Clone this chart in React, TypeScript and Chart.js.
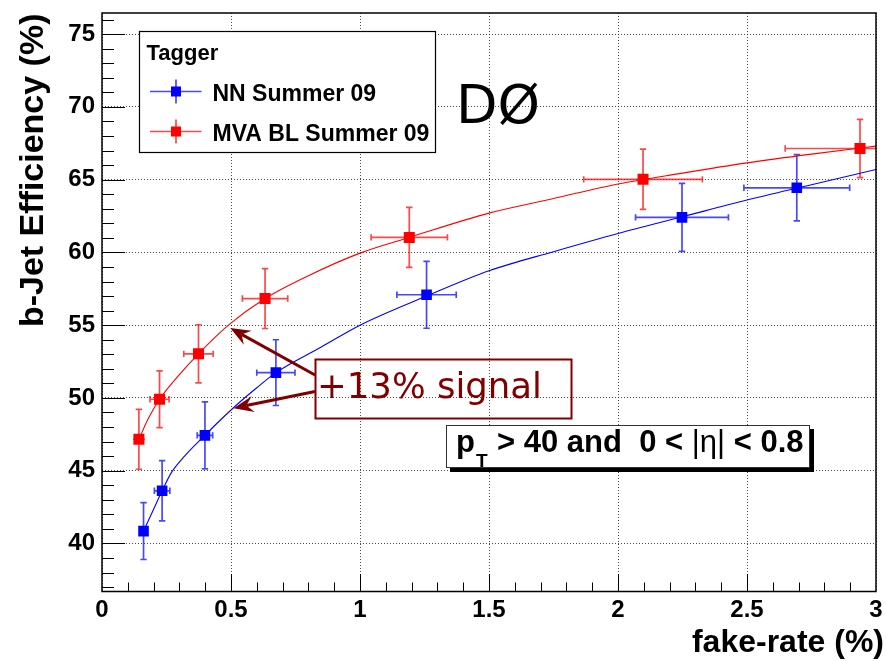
import React, { useEffect, useRef } from 'react';
import { Chart, registerables } from 'chart.js';

Chart.register(...registerables);

// ---------- data ----------
const seriesNames = ['NN Summer 09', 'MVA BL Summer 09'];
const legendTitle = 'Tagger';

// NN Summer 09 (blue)
const nnX = [0.161, 0.233, 0.399, 0.674, 1.258, 2.248, 2.693];
const nnY = [40.85, 43.62, 47.43, 51.74, 57.09, 62.41, 64.44];
const nnXErr = [0.015, 0.03, 0.03, 0.074, 0.115, 0.18, 0.205];
const nnYErr = [1.95, 2.07, 2.3, 2.26, 2.3, 2.34, 2.28];

// MVA BL Summer 09 (red)
const mvaX = [0.143, 0.223, 0.374, 0.632, 1.191, 2.097, 2.938];
const mvaY = [47.16, 49.91, 53.03, 56.83, 61.03, 65.02, 67.14];
const mvaXErr = [0.023, 0.037, 0.057, 0.088, 0.148, 0.23, 0.29];
const mvaYErr = [2.06, 1.95, 2.0, 2.06, 2.06, 2.07, 2.0];

// fitted curves
const nnFitX = [0.161, 0.2, 0.233, 0.27, 0.32, 0.399, 0.46, 0.53, 0.6, 0.674, 0.85, 1.0, 1.258, 1.5, 1.75, 2.0, 2.25, 2.5, 2.75, 3.0];
const nnFitY = [40.85, 42.35, 43.62, 44.9, 46.0, 47.43, 48.5, 49.65, 50.7, 51.74, 53.5, 55.0, 57.0, 58.74, 60.05, 61.3, 62.45, 63.6, 64.65, 65.7];
const mvaFitX = [0.143, 0.18, 0.223, 0.3, 0.374, 0.49, 0.632, 0.8, 1.0, 1.191, 1.5, 1.75, 2.0, 2.25, 2.5, 2.75, 3.0];
const mvaFitY = [47.16, 48.6, 49.91, 51.6, 53.03, 55.0, 56.83, 58.4, 59.95, 61.03, 62.7, 63.7, 64.7, 65.45, 66.15, 66.75, 67.3];

// axes
const xMin = 0;
const xMax = 3;
const yMin = 36.7;
const yMax = 76.45;
const xTicks = [0, 0.5, 1, 1.5, 2, 2.5, 3];
const xTickLabels = ['0', '0.5', '1', '1.5', '2', '2.5', '3'];
const yTicks = [40, 45, 50, 55, 60, 65, 70, 75];
const yTickLabels = ['40', '45', '50', '55', '60', '65', '70', '75'];
const xTitle = 'fake-rate (%)';
const yTitle = 'b-Jet Efficiency (%)';

// annotations
const signalText = '+13% signal';
const arrowTips = [
  { x: 0.497, y: 54.8 },
  { x: 0.51, y: 49.3 },
];
const experimentLabel = 'DØ';

// ---------- styling ----------
const BOLD = '"Liberation Sans", Arial, Helvetica, sans-serif';
const BLUE = '#0000ff';
const RED = '#ff0000';
const BLUE_ERR = 'rgba(0,0,255,0.72)';
const RED_ERR = 'rgba(255,0,0,0.72)';
const DARKRED = '#800000';

function drawErrors(ctx: CanvasRenderingContext2D, xs: any, ys: any, X: number[], Y: number[], XE: number[], YE: number[], color: string) {
  ctx.strokeStyle = color;
  ctx.lineWidth = 1.7;
  const cap = 3.2;
  for (let i = 0; i < X.length; i++) {
    const px = xs.getPixelForValue(X[i]);
    const py = ys.getPixelForValue(Y[i]);
    const x1 = xs.getPixelForValue(X[i] - XE[i]);
    const x2 = xs.getPixelForValue(X[i] + XE[i]);
    const y1 = ys.getPixelForValue(Y[i] + YE[i]);
    const y2 = ys.getPixelForValue(Y[i] - YE[i]);
    ctx.beginPath();
    ctx.moveTo(x1, py); ctx.lineTo(x2, py);
    ctx.moveTo(px, y1); ctx.lineTo(px, y2);
    if (x2 - x1 > 12) {
      ctx.moveTo(x1, py - cap); ctx.lineTo(x1, py + cap);
      ctx.moveTo(x2, py - cap); ctx.lineTo(x2, py + cap);
    }
    ctx.moveTo(px - cap, y1); ctx.lineTo(px + cap, y1);
    ctx.moveTo(px - cap, y2); ctx.lineTo(px + cap, y2);
    ctx.stroke();
  }
}

function drawArrow(ctx: CanvasRenderingContext2D, x0: number, y0: number, x1: number, y1: number) {
  const ang = Math.atan2(y1 - y0, x1 - x0);
  const c = Math.cos(ang), s = Math.sin(ang);
  const L = 20, W = 8, N = 13;
  const nx = x1 - N * c, ny = y1 - N * s;
  ctx.beginPath();
  ctx.moveTo(x0, y0);
  ctx.lineTo(nx, ny);
  ctx.stroke();
  ctx.beginPath();
  ctx.moveTo(x1, y1);
  ctx.lineTo(x1 - L * c + W * s, y1 - L * s - W * c);
  ctx.lineTo(nx, ny);
  ctx.lineTo(x1 - L * c - W * s, y1 - L * s + W * c);
  ctx.closePath();
  ctx.fill();
}

const rootPlugin = {
  id: 'rootStyle',
  beforeDatasetsDraw(chart: any) {
    const { ctx, chartArea: a, scales } = chart;
    ctx.save();
    ctx.beginPath();
    ctx.rect(a.left, a.top, a.right - a.left, a.bottom - a.top);
    ctx.clip();
    drawErrors(ctx, scales.x, scales.y, nnX, nnY, nnXErr, nnYErr, BLUE_ERR);
    drawErrors(ctx, scales.x, scales.y, mvaX, mvaY, mvaXErr, mvaYErr, RED_ERR);
    ctx.restore();
  },
  afterDraw(chart: any) {
    const { ctx, chartArea: a, scales } = chart;
    const xs = scales.x, ys = scales.y;
    ctx.save();

    // frame
    ctx.strokeStyle = '#000';
    ctx.lineWidth = 1.5;
    ctx.strokeRect(a.left, a.top, a.right - a.left, a.bottom - a.top);

    // inside ticks
    ctx.lineWidth = 1;
    ctx.beginPath();
    for (let v = 37; v <= 76; v += 1) {
      const py = Math.round(ys.getPixelForValue(v)) + 0.5;
      const len = v % 5 === 0 ? 23 : 12;
      ctx.moveTo(a.left, py);
      ctx.lineTo(a.left + len, py);
    }
    for (let k = 1; k < 30; k++) {
      const v = k / 10;
      const px = Math.round(xs.getPixelForValue(v)) + 0.5;
      const len = k % 5 === 0 ? 17.5 : 9;
      ctx.moveTo(px, a.bottom);
      ctx.lineTo(px, a.bottom - len);
    }
    ctx.stroke();

    // axis titles
    ctx.fillStyle = '#000';
    ctx.font = `bold 32px ${BOLD}`;
    ctx.textAlign = 'right';
    ctx.textBaseline = 'alphabetic';
    ctx.fillText(xTitle, 884, 652);
    ctx.save();
    ctx.translate(43, a.top + 0.5);
    ctx.rotate(-Math.PI / 2);
    ctx.font = `bold 34px ${BOLD}`;
    ctx.fillText(yTitle, 0, 0);
    ctx.restore();

    // legend
    ctx.fillStyle = '#fff';
    ctx.fillRect(139.5, 31.5, 296, 121);
    ctx.strokeStyle = '#000';
    ctx.lineWidth = 1.2;
    ctx.strokeRect(139.5, 31.5, 296, 121);
    ctx.fillStyle = '#000';
    ctx.textAlign = 'left';
    ctx.font = `bold 22px ${BOLD}`;
    ctx.fillText(legendTitle, 146.5, 59.5);
    const entries = [
      { name: seriesNames[0], col: BLUE, err: BLUE_ERR, cy: 91.5 },
      { name: seriesNames[1], col: RED, err: RED_ERR, cy: 131.5 },
    ];
    ctx.font = `bold 23px ${BOLD}`;
    for (const e of entries) {
      ctx.strokeStyle = e.err;
      ctx.lineWidth = 1.7;
      ctx.beginPath();
      ctx.moveTo(150, e.cy); ctx.lineTo(201.5, e.cy);
      ctx.moveTo(176, e.cy - 12); ctx.lineTo(176, e.cy + 12);
      ctx.stroke();
      ctx.fillStyle = e.col;
      ctx.fillRect(171, e.cy - 5, 10, 10);
      ctx.fillStyle = '#000';
      ctx.fillText(e.name, 212.5, e.cy + 9);
    }

    // experiment label
    ctx.font = '54px "DejaVu Sans", Verdana, sans-serif';
    ctx.fillText(experimentLabel, 456, 122.5);

    // +13% signal box and arrows
    ctx.strokeStyle = DARKRED;
    ctx.fillStyle = DARKRED;
    ctx.lineWidth = 2;
    ctx.strokeRect(315.5, 359.5, 256, 59);
    ctx.font = '35.5px "DejaVu Sans", Verdana, sans-serif';
    ctx.fillText(signalText, 317, 398);
    ctx.lineWidth = 3;
    const tails = [{ x: 315, y: 375 }, { x: 315, y: 391.5 }];
    arrowTips.forEach((t, i) => {
      drawArrow(ctx, tails[i].x, tails[i].y, xs.getPixelForValue(t.x), ys.getPixelForValue(t.y));
    });

    // pT box with shadow
    ctx.fillStyle = '#000';
    ctx.fillRect(450, 429, 364, 43);
    ctx.fillStyle = '#fff';
    ctx.fillRect(446, 425, 364, 43);
    ctx.strokeStyle = '#333';
    ctx.lineWidth = 1;
    ctx.strokeRect(446.5, 425.5, 363, 42);
    ctx.fillStyle = '#000';
    let cx = 456;
    const base = 452;
    ctx.font = `bold 31px ${BOLD}`;
    ctx.fillText('p', cx, base);
    cx += ctx.measureText('p').width + 1;
    ctx.font = `bold 19px ${BOLD}`;
    ctx.fillText('T', cx, base + 15);
    cx = 497;
    ctx.font = `bold 31px ${BOLD}`;
    const part1 = '> 40 and  0 < ';
    ctx.fillText(part1, cx, base);
    cx += ctx.measureText(part1).width;
    ctx.font = `31px ${BOLD}`;
    const part2 = '|η|';
    ctx.fillText(part2, cx, base);
    cx += ctx.measureText(part2).width;
    ctx.font = `bold 31px ${BOLD}`;
    ctx.fillText(' < 0.8', cx, base);

    ctx.restore();
  },
};

export default function App() {
  const ref = useRef<HTMLCanvasElement>(null);
  useEffect(() => {
    if (!ref.current) return;
    const tickFont = { family: BOLD, size: 24, weight: 'bold' as const };
    const chart = new Chart(ref.current, {
      type: 'scatter',
      data: {
        datasets: [
          {
            label: seriesNames[0],
            data: nnX.map((x, i) => ({ x, y: nnY[i] })),
            pointStyle: 'rect',
            pointRadius: 7.5,
            backgroundColor: BLUE,
            borderColor: BLUE,
            borderWidth: 0,
            showLine: false,
          },
          {
            label: seriesNames[1],
            data: mvaX.map((x, i) => ({ x, y: mvaY[i] })),
            pointStyle: 'rect',
            pointRadius: 7.8,
            backgroundColor: RED,
            borderColor: RED,
            borderWidth: 0,
            showLine: false,
          },
          {
            label: 'NN fit',
            data: nnFitX.map((x, i) => ({ x, y: nnFitY[i] })),
            showLine: true,
            pointRadius: 0,
            borderColor: BLUE,
            borderWidth: 1.1,
            cubicInterpolationMode: 'monotone',
            fill: false,
          },
          {
            label: 'MVA fit',
            data: mvaFitX.map((x, i) => ({ x, y: mvaFitY[i] })),
            showLine: true,
            pointRadius: 0,
            borderColor: RED,
            borderWidth: 1.1,
            cubicInterpolationMode: 'monotone',
            fill: false,
          },
        ],
      },
      options: {
        animation: false,
        responsive: false,
        devicePixelRatio: 1,
        layout: { padding: { left: 0, right: 10, top: 13, bottom: 0 } },
        plugins: { legend: { display: false }, tooltip: { enabled: false } },
        scales: {
          x: {
            type: 'linear',
            min: xMin,
            max: xMax,
            afterBuildTicks: (s: any) => { s.ticks = xTicks.map((v) => ({ value: v })); },
            afterFit: (s: any) => { s.height = 69.5; s.paddingLeft = 0; s.paddingRight = 0; },
            grid: { color: 'rgba(0,0,0,0.7)', lineWidth: 1, drawTicks: false },
            border: { display: false, dash: [1, 2] },
            ticks: {
              padding: 4,
              color: '#000',
              font: tickFont,
              maxRotation: 0,
              autoSkip: false,
              callback: (_v: any, i: number) => xTickLabels[i],
            },
          },
          y: {
            type: 'linear',
            min: yMin,
            max: yMax,
            afterBuildTicks: (s: any) => { s.ticks = yTicks.map((v) => ({ value: v })); },
            afterFit: (s: any) => { s.width = 102; s.paddingTop = 0; s.paddingBottom = 0; },
            grid: { color: 'rgba(0,0,0,0.7)', lineWidth: 1, drawTicks: false },
            border: { display: false, dash: [1, 2] },
            ticks: {
              padding: 7,
              color: '#000',
              font: tickFont,
              autoSkip: false,
              callback: (_v: any, i: number) => yTickLabels[i],
            },
          },
        },
      },
      plugins: [rootPlugin],
    } as any);
    return () => chart.destroy();
  }, []);

  return (
    <div style={{ position: 'absolute', left: 0, top: 0, width: 886, height: 661, background: '#fff' }}>
      <canvas ref={ref} width={886} height={661} style={{ display: 'block', width: 886, height: 661 }} />
    </div>
  );
}
